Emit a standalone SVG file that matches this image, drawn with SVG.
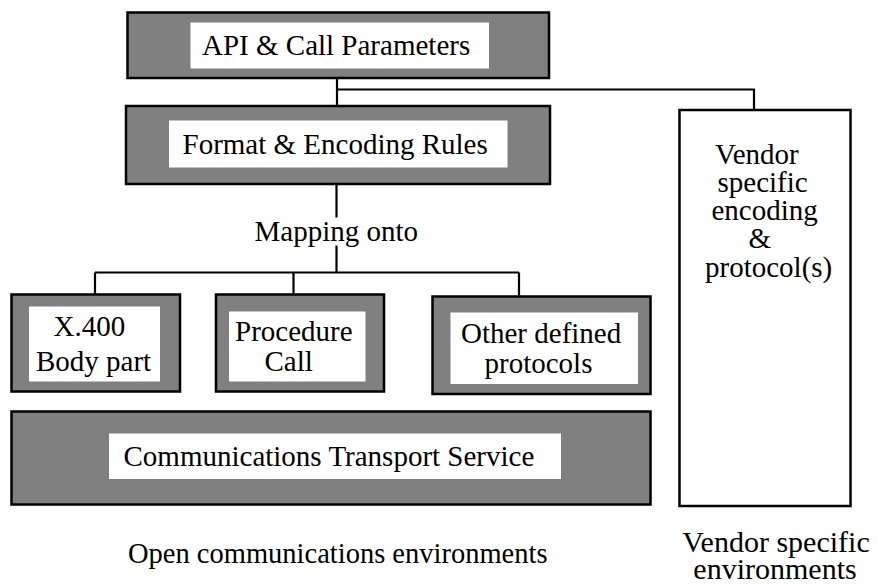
<svg xmlns="http://www.w3.org/2000/svg" width="878" height="584" viewBox="0 0 878 584">
<style>
.box{fill:#808080;stroke:#000;stroke-width:2.5}
.inner{fill:#fff;stroke:none}
.vbox{fill:#fff;stroke:#000;stroke-width:2.5}
text{font-family:'Liberation Serif','Times New Roman',Times,serif;fill:#000}
.t{font-size:29px}
.b{font-size:28.5px}
.v{font-size:30px;text-anchor:middle}
.c{fill:none;stroke:#000;stroke-width:2.2}
</style>
<rect width="878" height="584" fill="#fff"/>
<g id="connectors">
<path class="c" d="M337 78V106M337 89.5H754V110"/>
<path class="c" d="M336.5 184V217.5M336.5 245.5V273"/>
<path class="c" d="M95 272.5H519M95 272.5V294M293.5 272.5V294M519 272.5V296.5"/>
</g>
<g id="api">
<rect class="box" x="127.5" y="12.5" width="421.5" height="65.5"/>
<rect class="inner" x="190.5" y="22.5" width="298.5" height="46"/>
<text class="t" x="202" y="55">API &amp; Call Parameters</text>
</g>
<g id="format">
<rect class="box" x="126" y="106" width="424" height="78"/>
<rect class="inner" x="169" y="120.5" width="338.5" height="47"/>
<text class="t" x="182.5" y="153.5">Format &amp; Encoding Rules</text>
</g>
<g id="mapping">
<text class="t" x="254.5" y="240.5">Mapping onto</text>
</g>
<g id="x400">
<rect class="box" x="11.5" y="294.5" width="168.5" height="97"/>
<rect class="inner" x="29" y="306.5" width="131" height="75"/>
<text class="t" x="53.5" y="336">X.400</text>
<text class="t" x="36" y="370.5">Body part</text>
</g>
<g id="procedure">
<rect class="box" x="216" y="294.5" width="168" height="97"/>
<rect class="inner" x="229" y="311.5" width="136.5" height="70"/>
<text class="t" x="235" y="341">Procedure</text>
<text class="t" x="264.5" y="371">Call</text>
</g>
<g id="other">
<rect class="box" x="432.5" y="296.5" width="218" height="97.5"/>
<rect class="inner" x="450.5" y="312.5" width="187.5" height="71.5"/>
<text class="t" x="461" y="342.5">Other defined</text>
<text class="t" x="484.5" y="373">protocols</text>
</g>
<g id="transport">
<rect class="box" x="11.5" y="411.5" width="639" height="93"/>
<rect class="inner" x="109" y="433.5" width="452" height="45.5"/>
<text class="t" x="123.5" y="466">Communications Transport Service</text>
</g>
<g id="vendor">
<rect class="vbox" x="679.5" y="110" width="171" height="396"/>
<text class="t" x="715" y="163.5">Vendor</text>
<text class="t" x="717.5" y="191.5">specific</text>
<text class="t" x="711.5" y="220">encoding</text>
<text class="t" x="748.5" y="248">&amp;</text>
<text class="t" x="705" y="276.5">protocol(s)</text>
</g>
<g id="labels">
<text class="b" x="128" y="563">Open communications environments</text>
<text class="v" x="776" y="552">Vendor specific</text>
<text class="v" x="775" y="579">environments</text>
</g>
</svg>
